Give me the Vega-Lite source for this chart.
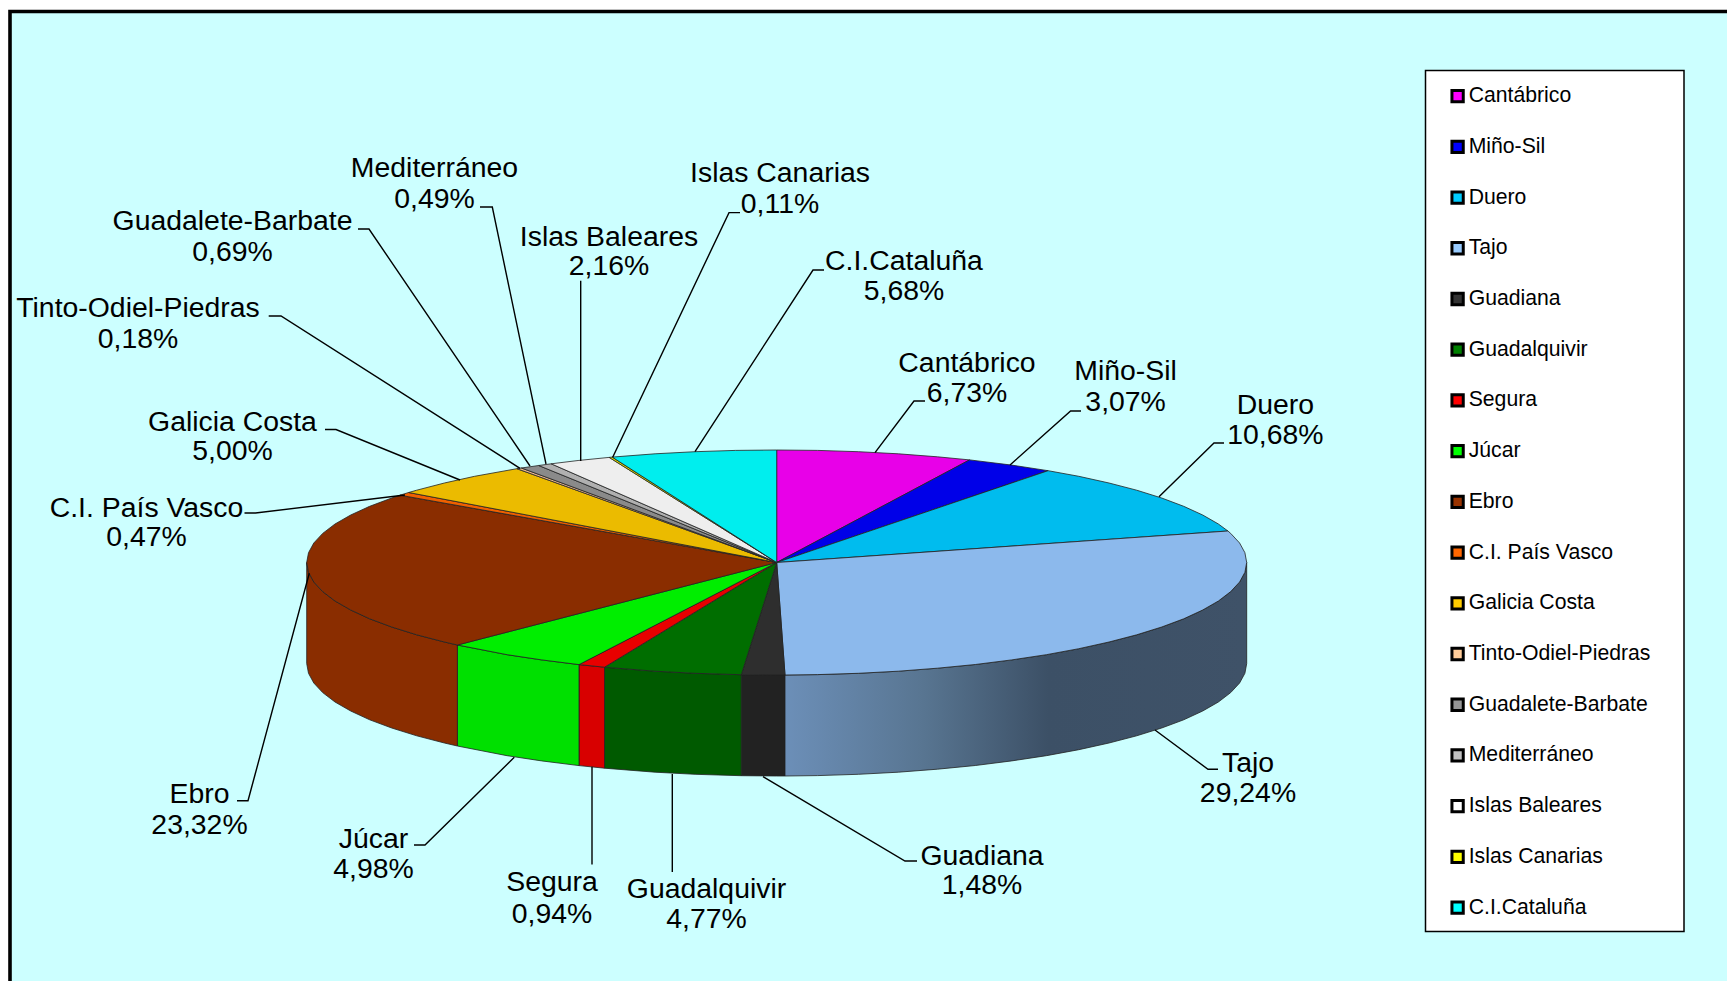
{"$schema":"https://vega.github.io/schema/vega-lite/v6.json","width":1727,"height":981,"padding":0,"autosize":"none","background":"#ffffff","view":{"stroke":null},
"datasets":{
"panels":[{"panel":"frame","x":10,"x2":1780,"y":11.5,"y2":1040},{"panel":"legend","x":1425.5,"x2":1684,"y":70.5,"y2":931.5}],
"rivers":[
{"name":"Cantábrico","pct":"6,73%","x":967,"yName":362,"yPct":392},
{"name":"Miño-Sil","pct":"3,07%","x":1125.6,"yName":370,"yPct":401},
{"name":"Duero","pct":"10,68%","x":1275.4,"yName":404,"yPct":434},
{"name":"Tajo","pct":"29,24%","x":1248,"yName":762,"yPct":792},
{"name":"Guadiana","pct":"1,48%","x":982,"yName":855,"yPct":884},
{"name":"Guadalquivir","pct":"4,77%","x":706.5,"yName":888,"yPct":918},
{"name":"Segura","pct":"0,94%","x":552,"yName":881,"yPct":912.5},
{"name":"Júcar","pct":"4,98%","x":373.5,"yName":838,"yPct":868},
{"name":"Ebro","pct":"23,32%","x":199.5,"yName":793,"yPct":824},
{"name":"C.I. País Vasco","pct":"0,47%","x":146.5,"yName":507,"yPct":536},
{"name":"Galicia Costa","pct":"5,00%","x":232.5,"yName":421,"yPct":450},
{"name":"Tinto-Odiel-Piedras","pct":"0,18%","x":138,"yName":307,"yPct":338},
{"name":"Guadalete-Barbate","pct":"0,69%","x":232.5,"yName":220,"yPct":251},
{"name":"Mediterráneo","pct":"0,49%","x":434.5,"yName":167,"yPct":198},
{"name":"Islas Baleares","pct":"2,16%","x":609,"yName":235.5,"yPct":265},
{"name":"Islas Canarias","pct":"0,11%","x":780,"yName":172,"yPct":203},
{"name":"C.I.Cataluña","pct":"5,68%","x":904,"yName":259.5,"yPct":290}],
"walls":[
{"slice":"Guadiana","i":0,"x":785,"y":675},{"slice":"Guadiana","i":1,"x":776.7,"y":675},{"slice":"Guadiana","i":2,"x":741.3,"y":674.7},{"slice":"Guadiana","i":3,"x":741.3,"y":775.7},{"slice":"Guadiana","i":4,"x":776.7,"y":776},{"slice":"Guadiana","i":5,"x":785,"y":776},{"slice":"Guadiana","i":6,"x":785,"y":675},
{"slice":"Guadalquivir","i":0,"x":741.3,"y":674.7},{"slice":"Guadalquivir","i":1,"x":695.1,"y":673.3},{"slice":"Guadalquivir","i":2,"x":655.1,"y":671.2},{"slice":"Guadalquivir","i":3,"x":604.5,"y":667.2},{"slice":"Guadalquivir","i":4,"x":604.5,"y":768.2},{"slice":"Guadalquivir","i":5,"x":655.1,"y":772.2},{"slice":"Guadalquivir","i":6,"x":695.1,"y":774.3},{"slice":"Guadalquivir","i":7,"x":741.3,"y":775.7},{"slice":"Guadalquivir","i":8,"x":741.3,"y":674.7},
{"slice":"Segura","i":0,"x":604.5,"y":667.2},{"slice":"Segura","i":1,"x":579,"y":664.6},{"slice":"Segura","i":2,"x":579,"y":765.6},{"slice":"Segura","i":3,"x":604.5,"y":768.2},{"slice":"Segura","i":4,"x":604.5,"y":667.2},
{"slice":"Júcar","i":0,"x":579,"y":664.6},{"slice":"Júcar","i":1,"x":541.7,"y":659.9},{"slice":"Júcar","i":2,"x":507.1,"y":654.7},{"slice":"Júcar","i":3,"x":457.4,"y":645},{"slice":"Júcar","i":4,"x":457.4,"y":746},{"slice":"Júcar","i":5,"x":507.1,"y":755.7},{"slice":"Júcar","i":6,"x":541.7,"y":760.9},{"slice":"Júcar","i":7,"x":579,"y":765.6},{"slice":"Júcar","i":8,"x":579,"y":664.6},
{"slice":"Ebro","i":0,"x":457.4,"y":645},{"slice":"Ebro","i":1,"x":444.4,"y":642},{"slice":"Ebro","i":2,"x":416.7,"y":634.8},{"slice":"Ebro","i":3,"x":391.7,"y":627},{"slice":"Ebro","i":4,"x":369.7,"y":618.8},{"slice":"Ebro","i":5,"x":350.7,"y":610},{"slice":"Ebro","i":6,"x":335,"y":601},{"slice":"Ebro","i":7,"x":322.7,"y":591.6},{"slice":"Ebro","i":8,"x":313.8,"y":582},{"slice":"Ebro","i":9,"x":308.5,"y":572.3},{"slice":"Ebro","i":10,"x":306.7,"y":562.5},{"slice":"Ebro","i":11,"x":306.7,"y":663.5},{"slice":"Ebro","i":12,"x":308.5,"y":673.3},{"slice":"Ebro","i":13,"x":313.8,"y":683},{"slice":"Ebro","i":14,"x":322.7,"y":692.6},{"slice":"Ebro","i":15,"x":335,"y":702},{"slice":"Ebro","i":16,"x":350.7,"y":711},{"slice":"Ebro","i":17,"x":369.7,"y":719.8},{"slice":"Ebro","i":18,"x":391.7,"y":728},{"slice":"Ebro","i":19,"x":416.7,"y":735.8},{"slice":"Ebro","i":20,"x":444.4,"y":743},{"slice":"Ebro","i":21,"x":457.4,"y":746},{"slice":"Ebro","i":22,"x":457.4,"y":645}],
"tajoWall":[
{"i":0,"x":1246.7,"y":562.5},{"i":1,"x":1244.9,"y":572.3},{"i":2,"x":1239.6,"y":582},{"i":3,"x":1230.7,"y":591.6},{"i":4,"x":1218.4,"y":601},{"i":5,"x":1202.7,"y":610},{"i":6,"x":1183.7,"y":618.8},{"i":7,"x":1161.7,"y":627},{"i":8,"x":1136.7,"y":634.8},{"i":9,"x":1109,"y":642},{"i":10,"x":1078.8,"y":648.7},{"i":11,"x":1046.3,"y":654.7},{"i":12,"x":1011.7,"y":659.9},{"i":13,"x":975.3,"y":664.5},{"i":14,"x":937.4,"y":668.2},{"i":15,"x":898.3,"y":671.2},{"i":16,"x":858.3,"y":673.3},{"i":17,"x":817.7,"y":674.6},{"i":18,"x":785,"y":675},{"i":19,"x":785,"y":776},{"i":20,"x":817.7,"y":775.6},{"i":21,"x":858.3,"y":774.3},{"i":22,"x":898.3,"y":772.2},{"i":23,"x":937.4,"y":769.2},{"i":24,"x":975.3,"y":765.5},{"i":25,"x":1011.7,"y":760.9},{"i":26,"x":1046.3,"y":755.7},{"i":27,"x":1078.8,"y":749.7},{"i":28,"x":1109,"y":743},{"i":29,"x":1136.7,"y":735.8},{"i":30,"x":1161.7,"y":728},{"i":31,"x":1183.7,"y":719.8},{"i":32,"x":1202.7,"y":711},{"i":33,"x":1218.4,"y":702},{"i":34,"x":1230.7,"y":692.6},{"i":35,"x":1239.6,"y":683},{"i":36,"x":1244.9,"y":673.3},{"i":37,"x":1246.7,"y":663.5},{"i":38,"x":1246.7,"y":562.5}],
"tops":[
{"slice":"Cantábrico","i":0,"x":776.7,"y":562.5},{"slice":"Cantábrico","i":1,"x":776.7,"y":450},{"slice":"Cantábrico","i":2,"x":817.7,"y":450.4},{"slice":"Cantábrico","i":3,"x":858.3,"y":451.7},{"slice":"Cantábrico","i":4,"x":898.3,"y":453.8},{"slice":"Cantábrico","i":5,"x":937.4,"y":456.8},{"slice":"Cantábrico","i":6,"x":969.6,"y":459.9},{"slice":"Cantábrico","i":7,"x":776.7,"y":562.5},
{"slice":"Miño-Sil","i":0,"x":776.7,"y":562.5},{"slice":"Miño-Sil","i":1,"x":969.6,"y":459.9},{"slice":"Miño-Sil","i":2,"x":1011.7,"y":465.1},{"slice":"Miño-Sil","i":3,"x":1048.1,"y":470.7},{"slice":"Miño-Sil","i":4,"x":776.7,"y":562.5},
{"slice":"Duero","i":0,"x":776.7,"y":562.5},{"slice":"Duero","i":1,"x":1048.1,"y":470.7},{"slice":"Duero","i":2,"x":1078.8,"y":476.3},{"slice":"Duero","i":3,"x":1109,"y":483},{"slice":"Duero","i":4,"x":1136.7,"y":490.2},{"slice":"Duero","i":5,"x":1161.7,"y":498},{"slice":"Duero","i":6,"x":1183.7,"y":506.3},{"slice":"Duero","i":7,"x":1202.7,"y":515},{"slice":"Duero","i":8,"x":1218.4,"y":524},{"slice":"Duero","i":9,"x":1227.9,"y":531},{"slice":"Duero","i":10,"x":776.7,"y":562.5},
{"slice":"Tajo","i":0,"x":776.7,"y":562.5},{"slice":"Tajo","i":1,"x":1227.9,"y":531},{"slice":"Tajo","i":2,"x":1230.7,"y":533.4},{"slice":"Tajo","i":3,"x":1239.6,"y":543},{"slice":"Tajo","i":4,"x":1244.9,"y":552.7},{"slice":"Tajo","i":5,"x":1246.7,"y":562.5},{"slice":"Tajo","i":6,"x":1244.9,"y":572.3},{"slice":"Tajo","i":7,"x":1239.6,"y":582},{"slice":"Tajo","i":8,"x":1230.7,"y":591.6},{"slice":"Tajo","i":9,"x":1218.4,"y":601},{"slice":"Tajo","i":10,"x":1202.7,"y":610},{"slice":"Tajo","i":11,"x":1183.7,"y":618.8},{"slice":"Tajo","i":12,"x":1161.7,"y":627},{"slice":"Tajo","i":13,"x":1136.7,"y":634.8},{"slice":"Tajo","i":14,"x":1109,"y":642},{"slice":"Tajo","i":15,"x":1078.8,"y":648.7},{"slice":"Tajo","i":16,"x":1046.3,"y":654.7},{"slice":"Tajo","i":17,"x":1011.7,"y":659.9},{"slice":"Tajo","i":18,"x":975.3,"y":664.5},{"slice":"Tajo","i":19,"x":937.4,"y":668.2},{"slice":"Tajo","i":20,"x":898.3,"y":671.2},{"slice":"Tajo","i":21,"x":858.3,"y":673.3},{"slice":"Tajo","i":22,"x":817.7,"y":674.6},{"slice":"Tajo","i":23,"x":785,"y":675},{"slice":"Tajo","i":24,"x":776.7,"y":562.5},
{"slice":"Guadiana","i":0,"x":776.7,"y":562.5},{"slice":"Guadiana","i":1,"x":785,"y":675},{"slice":"Guadiana","i":2,"x":776.7,"y":675},{"slice":"Guadiana","i":3,"x":741.3,"y":674.7},{"slice":"Guadiana","i":4,"x":776.7,"y":562.5},
{"slice":"Guadalquivir","i":0,"x":776.7,"y":562.5},{"slice":"Guadalquivir","i":1,"x":741.3,"y":674.7},{"slice":"Guadalquivir","i":2,"x":695.1,"y":673.3},{"slice":"Guadalquivir","i":3,"x":655.1,"y":671.2},{"slice":"Guadalquivir","i":4,"x":604.5,"y":667.2},{"slice":"Guadalquivir","i":5,"x":776.7,"y":562.5},
{"slice":"Segura","i":0,"x":776.7,"y":562.5},{"slice":"Segura","i":1,"x":604.5,"y":667.2},{"slice":"Segura","i":2,"x":579,"y":664.6},{"slice":"Segura","i":3,"x":776.7,"y":562.5},
{"slice":"Júcar","i":0,"x":776.7,"y":562.5},{"slice":"Júcar","i":1,"x":579,"y":664.6},{"slice":"Júcar","i":2,"x":541.7,"y":659.9},{"slice":"Júcar","i":3,"x":507.1,"y":654.7},{"slice":"Júcar","i":4,"x":457.4,"y":645},{"slice":"Júcar","i":5,"x":776.7,"y":562.5},
{"slice":"Ebro","i":0,"x":776.7,"y":562.5},{"slice":"Ebro","i":1,"x":457.4,"y":645},{"slice":"Ebro","i":2,"x":444.4,"y":642},{"slice":"Ebro","i":3,"x":416.7,"y":634.8},{"slice":"Ebro","i":4,"x":391.7,"y":627},{"slice":"Ebro","i":5,"x":369.7,"y":618.8},{"slice":"Ebro","i":6,"x":350.7,"y":610},{"slice":"Ebro","i":7,"x":335,"y":601},{"slice":"Ebro","i":8,"x":322.7,"y":591.6},{"slice":"Ebro","i":9,"x":313.8,"y":582},{"slice":"Ebro","i":10,"x":308.5,"y":572.3},{"slice":"Ebro","i":11,"x":306.7,"y":562.5},{"slice":"Ebro","i":12,"x":308.5,"y":552.7},{"slice":"Ebro","i":13,"x":313.8,"y":543},{"slice":"Ebro","i":14,"x":322.7,"y":533.4},{"slice":"Ebro","i":15,"x":335,"y":524},{"slice":"Ebro","i":16,"x":350.7,"y":515},{"slice":"Ebro","i":17,"x":369.7,"y":506.3},{"slice":"Ebro","i":18,"x":391.7,"y":498},{"slice":"Ebro","i":19,"x":400,"y":495.2},{"slice":"Ebro","i":20,"x":776.7,"y":562.5},
{"slice":"C.I. País Vasco","i":0,"x":776.7,"y":562.5},{"slice":"C.I. País Vasco","i":1,"x":400,"y":495.2},{"slice":"C.I. País Vasco","i":2,"x":408.6,"y":492.5},{"slice":"C.I. País Vasco","i":3,"x":776.7,"y":562.5},
{"slice":"Galicia Costa","i":0,"x":776.7,"y":562.5},{"slice":"Galicia Costa","i":1,"x":408.6,"y":492.5},{"slice":"Galicia Costa","i":2,"x":416.7,"y":490.2},{"slice":"Galicia Costa","i":3,"x":444.4,"y":483},{"slice":"Galicia Costa","i":4,"x":474.6,"y":476.3},{"slice":"Galicia Costa","i":5,"x":516.9,"y":468.7},{"slice":"Galicia Costa","i":6,"x":776.7,"y":562.5},
{"slice":"Tinto-Odiel-Piedras","i":0,"x":776.7,"y":562.5},{"slice":"Tinto-Odiel-Piedras","i":1,"x":516.9,"y":468.7},{"slice":"Tinto-Odiel-Piedras","i":2,"x":521.4,"y":468},{"slice":"Tinto-Odiel-Piedras","i":3,"x":776.7,"y":562.5},
{"slice":"Guadalete-Barbate","i":0,"x":776.7,"y":562.5},{"slice":"Guadalete-Barbate","i":1,"x":521.4,"y":468},{"slice":"Guadalete-Barbate","i":2,"x":538.7,"y":465.5},{"slice":"Guadalete-Barbate","i":3,"x":776.7,"y":562.5},
{"slice":"Mediterráneo","i":0,"x":776.7,"y":562.5},{"slice":"Mediterráneo","i":1,"x":538.7,"y":465.5},{"slice":"Mediterráneo","i":2,"x":551.2,"y":463.8},{"slice":"Mediterráneo","i":3,"x":776.7,"y":562.5},
{"slice":"Islas Baleares","i":0,"x":776.7,"y":562.5},{"slice":"Islas Baleares","i":1,"x":551.2,"y":463.8},{"slice":"Islas Baleares","i":2,"x":578.1,"y":460.5},{"slice":"Islas Baleares","i":3,"x":609.2,"y":457.4},{"slice":"Islas Baleares","i":4,"x":776.7,"y":562.5},
{"slice":"Islas Canarias","i":0,"x":776.7,"y":562.5},{"slice":"Islas Canarias","i":1,"x":609.2,"y":457.4},{"slice":"Islas Canarias","i":2,"x":612.2,"y":457.1},{"slice":"Islas Canarias","i":3,"x":776.7,"y":562.5},
{"slice":"C.I.Cataluña","i":0,"x":776.7,"y":562.5},{"slice":"C.I.Cataluña","i":1,"x":612.2,"y":457.1},{"slice":"C.I.Cataluña","i":2,"x":655.1,"y":453.8},{"slice":"C.I.Cataluña","i":3,"x":695.1,"y":451.7},{"slice":"C.I.Cataluña","i":4,"x":735.7,"y":450.4},{"slice":"C.I.Cataluña","i":5,"x":776.7,"y":450},{"slice":"C.I.Cataluña","i":6,"x":776.7,"y":562.5}],
"leaders":[
{"slice":"Cantábrico","i":0,"x":875,"y":452.7},{"slice":"Cantábrico","i":1,"x":914,"y":401},{"slice":"Cantábrico","i":2,"x":925,"y":401},
{"slice":"Miño-Sil","i":0,"x":1010,"y":465},{"slice":"Miño-Sil","i":1,"x":1070.6,"y":411},{"slice":"Miño-Sil","i":2,"x":1081,"y":411},
{"slice":"Duero","i":0,"x":1159,"y":496.7},{"slice":"Duero","i":1,"x":1214,"y":443},{"slice":"Duero","i":2,"x":1224,"y":443},
{"slice":"Tajo","i":0,"x":1155,"y":730},{"slice":"Tajo","i":1,"x":1208,"y":769.3},{"slice":"Tajo","i":2,"x":1218,"y":769.3},
{"slice":"Guadiana","i":0,"x":763,"y":776.7},{"slice":"Guadiana","i":1,"x":905,"y":861},{"slice":"Guadiana","i":2,"x":917,"y":861},
{"slice":"Guadalquivir","i":0,"x":672.3,"y":774},{"slice":"Guadalquivir","i":1,"x":672.3,"y":872},
{"slice":"Segura","i":0,"x":592,"y":766.7},{"slice":"Segura","i":1,"x":592,"y":864.6},
{"slice":"Júcar","i":0,"x":514.3,"y":757.3},{"slice":"Júcar","i":1,"x":425,"y":845},{"slice":"Júcar","i":2,"x":414,"y":845},
{"slice":"Ebro","i":0,"x":309.3,"y":573.3},{"slice":"Ebro","i":1,"x":248,"y":800.7},{"slice":"Ebro","i":2,"x":237,"y":800.7},
{"slice":"C.I. País Vasco","i":0,"x":405,"y":495},{"slice":"C.I. País Vasco","i":1,"x":255.5,"y":513},{"slice":"C.I. País Vasco","i":2,"x":244.5,"y":513},
{"slice":"Galicia Costa","i":0,"x":460,"y":480},{"slice":"Galicia Costa","i":1,"x":336,"y":429.5},{"slice":"Galicia Costa","i":2,"x":325,"y":429.5},
{"slice":"Tinto-Odiel-Piedras","i":0,"x":520,"y":468.3},{"slice":"Tinto-Odiel-Piedras","i":1,"x":281,"y":316},{"slice":"Tinto-Odiel-Piedras","i":2,"x":268.7,"y":316},
{"slice":"Guadalete-Barbate","i":0,"x":530,"y":466},{"slice":"Guadalete-Barbate","i":1,"x":369,"y":229},{"slice":"Guadalete-Barbate","i":2,"x":358,"y":229},
{"slice":"Mediterráneo","i":0,"x":546,"y":464},{"slice":"Mediterráneo","i":1,"x":492.3,"y":207},{"slice":"Mediterráneo","i":2,"x":480,"y":207},
{"slice":"Islas Baleares","i":0,"x":580.7,"y":461},{"slice":"Islas Baleares","i":1,"x":580.7,"y":280.7},
{"slice":"Islas Canarias","i":0,"x":612.7,"y":457.3},{"slice":"Islas Canarias","i":1,"x":729,"y":212.6},{"slice":"Islas Canarias","i":2,"x":740,"y":212.6},
{"slice":"C.I.Cataluña","i":0,"x":695,"y":451.7},{"slice":"C.I.Cataluña","i":1,"x":813,"y":270},{"slice":"C.I.Cataluña","i":2,"x":824,"y":270}]
},
"layer":[
{"data":{"name":"panels"},"transform":[{"filter":"datum.panel == 'frame'"}],"mark":{"type":"rect","fill":"#ccffff","stroke":"#000000","strokeWidth":3.6},"encoding":{"x":{"field":"x","type":"quantitative","axis":null,"scale":{"domain":[0,1727],"range":[0,1727],"nice":false,"zero":false}},"x2":{"field":"x2"},"y":{"field":"y","type":"quantitative","axis":null,"scale":{"domain":[0,981],"range":[0,981],"nice":false,"zero":false}},"y2":{"field":"y2"}}},
{"data":{"name":"panels"},"transform":[{"filter":"datum.panel == 'legend'"}],"mark":{"type":"rect","fill":"#ffffff","stroke":"#000000","strokeWidth":1.5},"encoding":{"x":{"field":"x","type":"quantitative","axis":null},"x2":{"field":"x2"},"y":{"field":"y","type":"quantitative","axis":null},"y2":{"field":"y2"}}},
{"data":{"name":"walls"},"mark":{"type":"line","stroke":"#222222","strokeWidth":0.8},"encoding":{"x":{"field":"x","type":"quantitative","axis":null},"y":{"field":"y","type":"quantitative","axis":null},"order":{"field":"i"},"fill":{"field":"slice","type":"nominal","legend":null,"scale":{"domain":["Guadiana","Guadalquivir","Segura","Júcar","Ebro"],"range":["#222222","#005a00","#d80000","#00e000","#8a2d00"]}}}},
{"data":{"name":"tajoWall"},"mark":{"type":"line","stroke":"#222222","strokeWidth":0.8,"fill":{"gradient":"linear","x1":0,"y1":0,"x2":1,"y2":0,"stops":[{"offset":0,"color":"#6c8fb8"},{"offset":0.3,"color":"#587591"},{"offset":0.57,"color":"#3c5066"},{"offset":1,"color":"#3f5268"}]}},"encoding":{"x":{"field":"x","type":"quantitative","axis":null},"y":{"field":"y","type":"quantitative","axis":null},"order":{"field":"i"}}},
{"data":{"name":"tops"},"mark":{"type":"line","stroke":"#222222","strokeWidth":0.8},"encoding":{"x":{"field":"x","type":"quantitative","axis":null},"y":{"field":"y","type":"quantitative","axis":null},"order":{"field":"i"},"fill":{"field":"slice","type":"nominal","legend":null,"scale":{"domain":["Cantábrico","Miño-Sil","Duero","Tajo","Guadiana","Guadalquivir","Segura","Júcar","Ebro","C.I. País Vasco","Galicia Costa","Tinto-Odiel-Piedras","Guadalete-Barbate","Mediterráneo","Islas Baleares","Islas Canarias","C.I.Cataluña"],"range":["#e800e8","#0000e8","#00bcee","#8cb9ec","#2e2e2e","#006e00","#e80000","#00ee00","#8a2d00","#f06000","#ebbb00","#eebb90","#8a8a8a","#b0b0b0","#eeeeee","#e0e000","#00eeee"]}}}},
{"data":{"name":"leaders"},"mark":{"type":"line","stroke":"#000000","strokeWidth":1.4},"encoding":{"x":{"field":"x","type":"quantitative","axis":null},"y":{"field":"y","type":"quantitative","axis":null},"order":{"field":"i"},"detail":{"field":"slice"}}},
{"data":{"name":"rivers"},"mark":{"type":"text","font":"Liberation Sans","fontSize":28.4,"align":"center","baseline":"middle","color":"#000000","dy":1},"encoding":{"x":{"field":"x","type":"quantitative","axis":null},"y":{"field":"yName","type":"quantitative","axis":null},"text":{"field":"name"}}},
{"data":{"name":"rivers"},"mark":{"type":"text","font":"Liberation Sans","fontSize":28.4,"align":"center","baseline":"middle","color":"#000000","dy":1},"encoding":{"x":{"field":"x","type":"quantitative","axis":null},"y":{"field":"yPct","type":"quantitative","axis":null},"text":{"field":"pct"}}},
{"data":{"name":"rivers"},"mark":{"type":"point","filled":true,"size":0,"opacity":1},"encoding":{"fill":{"field":"name","type":"nominal","scale":{"domain":["Cantábrico","Miño-Sil","Duero","Tajo","Guadiana","Guadalquivir","Segura","Júcar","Ebro","C.I. País Vasco","Galicia Costa","Tinto-Odiel-Piedras","Guadalete-Barbate","Mediterráneo","Islas Baleares","Islas Canarias","C.I.Cataluña"],"range":["#ff00ff","#0000ff","#00ccff","#99ccff","#333333","#008000","#ff0000","#00ff00","#993300","#ff6600","#ffcc00","#ffcc99","#969696","#c0c0c0","#ffffff","#ffff00","#00ffff"]},"legend":{"orient":"none","legendX":1447,"legendY":85.5,"title":null,"columns":1,"symbolType":"square","symbolSize":128,"symbolStrokeColor":"#000000","symbolStrokeWidth":3,"symbolOpacity":1,"labelFont":"Liberation Sans","labelFontSize":21.2,"labelColor":"#000000","labelLimit":300,"labelOffset":0.5,"rowPadding":25.72,"padding":0}}}}
],
"resolve":{"scale":{"fill":"independent"}}
}
